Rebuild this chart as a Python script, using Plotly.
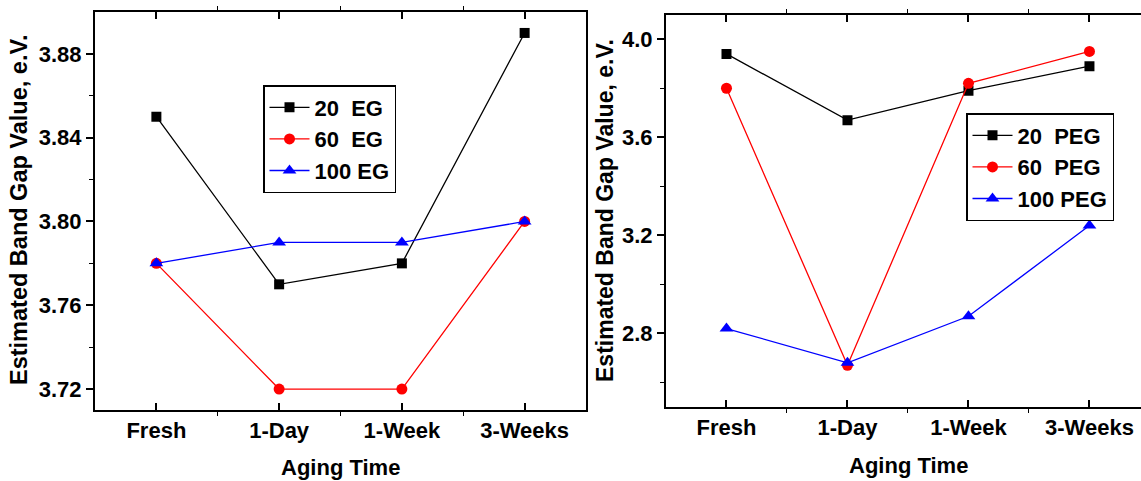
import plotly.graph_objects as go

# Aging time categories
aging = ["Fresh", "1-Day", "1-Week", "3-Weeks"]
xpos = [0, 1, 2, 3]

# Band gap (eV) for ethylene glycol samples
eg_20 = [3.85, 3.77, 3.78, 3.89]
eg_60 = [3.78, 3.72, 3.72, 3.80]
eg_100 = [3.78, 3.79, 3.79, 3.80]

# Band gap (eV) for polyethylene glycol samples
peg_20 = [3.94, 3.67, 3.79, 3.89]
peg_60 = [3.80, 2.67, 3.82, 3.95]
peg_100 = [2.82, 2.68, 2.87, 3.24]

FONT = "Liberation Sans, Arial, sans-serif"
W, H = 1141, 481

styles = [
    ("black", "square", 10),
    ("red", "circle", 11),
    ("blue", "triangle-up", 12),
]

fig = go.Figure()

left_sets = [("20\u00a0\u00a0EG", eg_20), ("60\u00a0\u00a0EG", eg_60), ("100 EG", eg_100)]
right_sets = [("20\u00a0\u00a0PEG", peg_20), ("60\u00a0\u00a0PEG", peg_60), ("100 PEG", peg_100)]

for (name, ys), (col, sym, sz) in zip(left_sets, styles):
    fig.add_trace(go.Scatter(
        x=xpos, y=ys, name=name, mode="lines+markers",
        line=dict(color=col, width=1.3),
        marker=dict(color=col, symbol=sym, size=sz),
        xaxis="x", yaxis="y", legend="legend",
    ))

for (name, ys), (col, sym, sz) in zip(right_sets, styles):
    fig.add_trace(go.Scatter(
        x=xpos, y=ys, name=name, mode="lines+markers",
        line=dict(color=col, width=1.3),
        marker=dict(color=col, symbol=sym, size=sz),
        xaxis="x2", yaxis="y2", legend="legend2",
    ))

tickfont = dict(family=FONT, size=22, color="black", weight="bold")

common_x = dict(
    tickmode="array", tickvals=xpos, ticktext=aging,
    ticks="inside", ticklen=7, tickwidth=1.5, tickcolor="black",
    showline=True, linecolor="black", linewidth=2,
    showgrid=False, zeroline=False, tickfont=tickfont,
    minor=dict(tickvals=[0.5, 1.5, 2.5], ticks="outside", ticklen=4,
               tickcolor="black", tickwidth=1, showgrid=False),
)
common_y = dict(
    ticks="outside", ticklen=7, tickwidth=1.5, tickcolor="black",
    showline=True, linecolor="black", linewidth=2,
    showgrid=False, zeroline=False, tickfont=tickfont,
)

left_x0, left_x1 = 95 / W, 586 / W
right_x0 = 666 / W
ly0, ly1 = 1 - 410 / H, 1 - 12 / H
ry0, ry1 = 1 - 407 / H, 1 - 14.7 / H

eg_range = [3.71, 3.90]
eg_ticks = [3.72, 3.76, 3.80, 3.84, 3.88]
eg_minor = [3.74, 3.78, 3.82, 3.86]

legend_font = dict(family=FONT, size=22, color="black", weight="bold")

fig.update_layout(
    width=W, height=H,
    margin=dict(l=0, r=0, t=0, b=0),
    paper_bgcolor="white", plot_bgcolor="white",
    font=dict(family=FONT, color="black"),
    xaxis=dict(domain=[left_x0, left_x1], range=[-0.5, 3.5], anchor="y",
               mirror="allticks", **common_x),
    yaxis=dict(domain=[ly0, ly1], range=eg_range, anchor="x",
               tickvals=eg_ticks,
               ticktext=["3.72", "3.76", "3.80", "3.84", "3.88"],
               mirror=True,
               minor=dict(tickvals=eg_minor, ticks="outside",
                          ticklen=4, tickcolor="black", tickwidth=1, showgrid=False),
               **common_y),
    # right-hand tick marks of the EG panel, pointing into the frame
    yaxis3=dict(domain=[ly0, ly1], range=eg_range, anchor="x", overlaying="y",
                side="right", tickvals=eg_ticks, showticklabels=False,
                ticks="inside", ticklen=7, tickwidth=1.5, tickcolor="black",
                showline=False, showgrid=False, zeroline=False,
                minor=dict(tickvals=eg_minor, ticks="inside", ticklen=4,
                           tickcolor="black", tickwidth=1, showgrid=False)),
    xaxis2=dict(domain=[right_x0, 1.0], range=[-0.5, 3.426], anchor="y2",
                mirror="allticks", **common_x),
    yaxis2=dict(domain=[ry0, ry1], range=[2.5, 4.1], anchor="x2",
                tickvals=[2.8, 3.2, 3.6, 4.0],
                ticktext=["2.8", "3.2", "3.6", "4.0"],
                mirror=False,
                minor=dict(tickvals=[2.6, 3.0, 3.4, 3.8], ticks="outside",
                           ticklen=4, tickcolor="black", tickwidth=1, showgrid=False),
                **common_y),
    legend=dict(
        x=263 / W, y=1 - 85 / H, xanchor="left", yanchor="top",
        bgcolor="white", bordercolor="black", borderwidth=1.5,
        font=legend_font, itemwidth=40, tracegroupgap=0,
    ),
    legend2=dict(
        x=966 / W, y=1 - 113 / H, xanchor="left", yanchor="top",
        bgcolor="white", bordercolor="black", borderwidth=1.5,
        font=legend_font, itemwidth=40, tracegroupgap=0,
    ),
    showlegend=True,
)

title_font = dict(family=FONT, size=22, color="black", weight="bold")

fig.add_annotation(text="Aging Time", x=340 / W, y=1 - 467 / H, xref="paper", yref="paper",
                   showarrow=False, font=title_font, xanchor="center", yanchor="middle")
fig.add_annotation(text="Aging Time", x=908 / W, y=1 - 465 / H, xref="paper", yref="paper",
                   showarrow=False, font=title_font, xanchor="center", yanchor="middle")
fig.add_annotation(text="Estimated Band Gap Value, e.V.", x=19 / W, y=1 - 210 / H,
                   xref="paper", yref="paper", showarrow=False, textangle=-90,
                   font=dict(family=FONT, size=23.5, color="black", weight="bold"),
                   xanchor="center", yanchor="middle")
fig.add_annotation(text="Estimated Band Gap Value, e.V.", x=605 / W, y=1 - 211 / H,
                   xref="paper", yref="paper", showarrow=False, textangle=-90,
                   font=dict(family=FONT, size=23, color="black", weight="bold"),
                   xanchor="center", yanchor="middle")

fig.write_html("out.html")
